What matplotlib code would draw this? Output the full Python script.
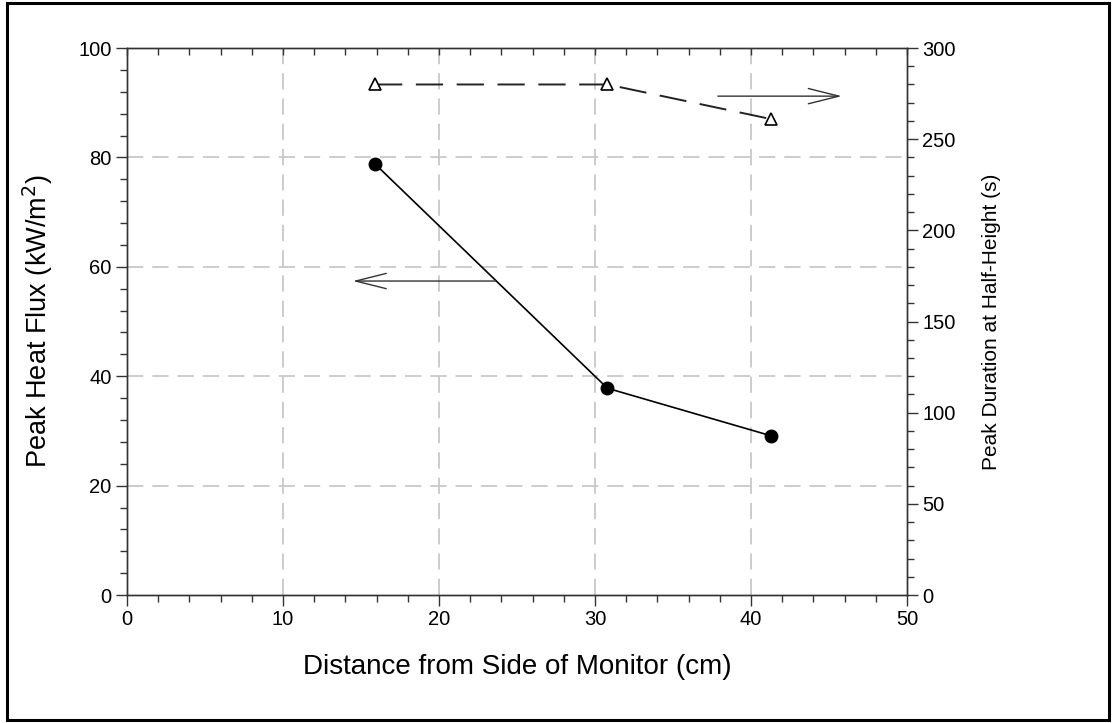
import numpy as np
import matplotlib.pyplot as plt
from matplotlib.ticker import MultipleLocator
from matplotlib.patches import Rectangle

plt.rcParams['font.family'] = ['Liberation Sans', 'DejaVu Sans']

# measured points
distance = [15.9, 30.8, 41.3]          # cm
heat_flux = [78.8, 37.8, 29.1]         # kW/m^2
duration = [280, 280, 261]             # s

fig = plt.figure(figsize=(11.12, 7.23), dpi=100)
ax = fig.add_axes([0.1142, 0.177, 0.7014, 0.7566])
ax2 = ax.twinx()

grid_kw = dict(color='#c8c8c8', lw=1.3, dashes=(9, 5), zorder=0)
for gx in [10, 20, 30, 40]:
    ax.axvline(gx, **grid_kw)
for gy in [20, 40, 60, 80]:
    ax.axhline(gy, **grid_kw)

ax.plot(distance, heat_flux, color='black', lw=1.2, marker='o',
        markersize=9, zorder=3)
ax2.plot(distance, duration, color='#222222', lw=1.4, dashes=(14, 7),
         marker='^', markersize=9, markerfacecolor='white',
         markeredgecolor='black', markeredgewidth=1.2, zorder=3)

# arrows pointing at the axis each curve belongs to
ax.annotate('', xy=(14.3, 57.4), xytext=(23.8, 57.4),
            arrowprops=dict(arrowstyle='->,head_length=2.2,head_width=0.55',
                            color='#333333', lw=1.0))
ax.annotate('', xy=(46.0, 91.2), xytext=(37.7, 91.2),
            arrowprops=dict(arrowstyle='->,head_length=2.2,head_width=0.55',
                            color='#333333', lw=1.0))

ax.set_xlim(0, 50)
ax.set_ylim(0, 100)
ax2.set_ylim(0, 300)

ax.xaxis.set_major_locator(MultipleLocator(10))
ax.xaxis.set_minor_locator(MultipleLocator(2))
ax.yaxis.set_major_locator(MultipleLocator(20))
ax.yaxis.set_minor_locator(MultipleLocator(4))
ax2.yaxis.set_major_locator(MultipleLocator(50))
ax2.yaxis.set_minor_locator(MultipleLocator(10))

ax.tick_params(which='both', direction='out', width=1.0, color='#333333',
               labelsize=14.5, top=False, pad=3)
ax.tick_params(which='major', length=8)
ax.tick_params(which='minor', length=5)
ax2.tick_params(which='both', direction='out', width=1.0, color='#333333',
                labelsize=14.5, pad=3)
ax2.tick_params(which='major', length=8)
ax2.tick_params(which='minor', length=5)

# inward ticks along the top edge
sec = ax.secondary_xaxis('top')
sec.xaxis.set_major_locator(MultipleLocator(2))
sec.tick_params(direction='in', length=5, width=1.0, color='#333333',
                labeltop=False)
sec.spines['top'].set_visible(False)

for a in (ax, ax2):
    for s in a.spines.values():
        s.set_linewidth(1.0)
        s.set_color('#333333')

ax.set_xlabel('Distance from Side of Monitor (cm)', fontsize=20, labelpad=18)
ax.set_ylabel('Peak Heat Flux (kW/m$^2$)', fontsize=19.5, labelpad=17)
ax2.set_ylabel('Peak Duration at Half-Height (s)', fontsize=15, labelpad=19)

fig.patches.append(Rectangle((0.0065, 0.0035), 0.9905, 0.9925,
                             transform=fig.transFigure, fill=False,
                             edgecolor='black', lw=2.2))

fig.savefig('out.png', dpi=100)
